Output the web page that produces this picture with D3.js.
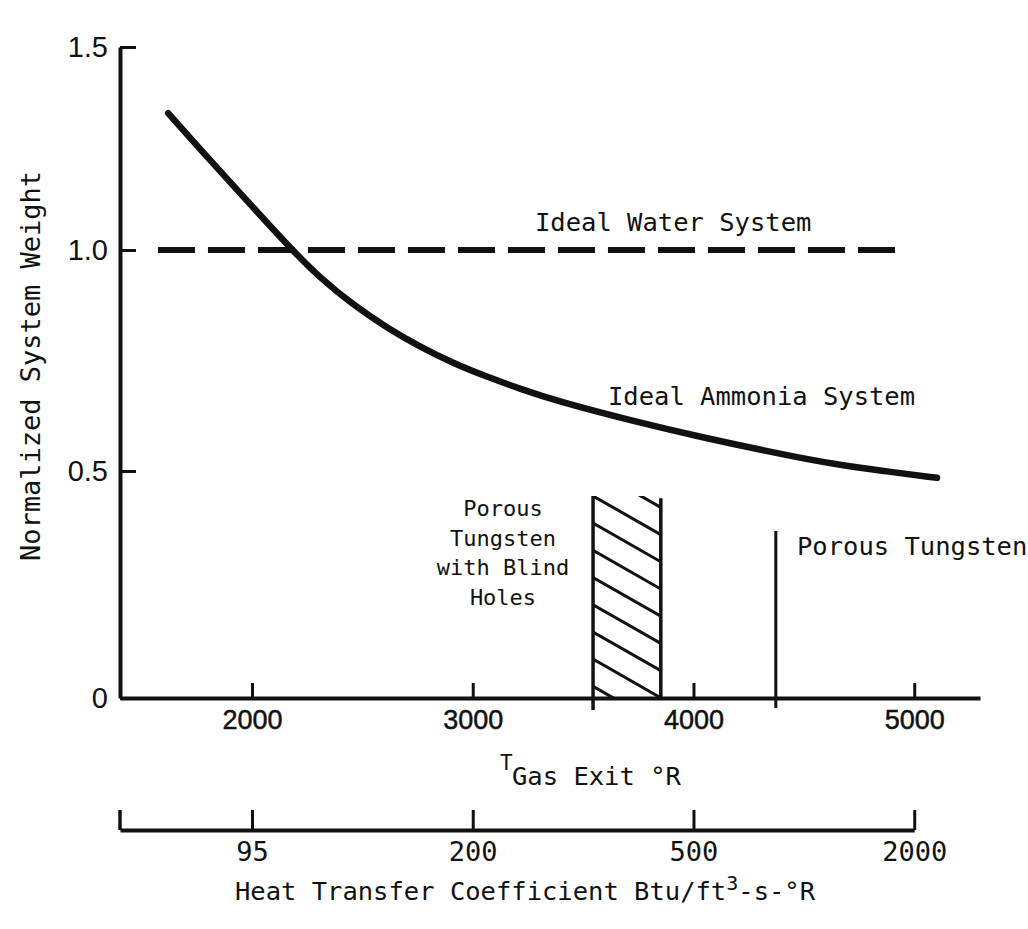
<!DOCTYPE html>
<html>
<head>
<meta charset="utf-8">
<script src="https://cdn.jsdelivr.net/npm/d3@7"></script>
<style>
  html, body { margin: 0; padding: 0; background: #fff; }
  svg { display: block; }
</style>
</head>
<body>
<svg id="chart" width="1028" height="929"></svg>
<script>
// ---------------- data ----------------
const tempTicks = [2000, 3000, 4000, 5000];
const tempTickLabels = ["2000", "3000", "4000", "5000"];
const weightTicks = [0, 0.5, 1.0, 1.5];
const weightTickLabels = ["0", "0.5", "1.0", "1.5"];
const htcTicks = [95, 200, 500, 2000];          // heat transfer coefficient labels
const htcTickTemps = [2000, 3000, 4000, 5000];  // gas exit temperature each corresponds to
const htcTickLabels = ["95", "200", "500", "2000"];

const ammoniaTemp = [1620, 1764, 1946, 2172, 2308, 2458, 2612, 2761, 2911, 3065, 3214, 3382, 3726, 4030, 4437, 4632, 4859, 5103];
const ammoniaWeight = [1.337, 1.249, 1.140, 1.005, 0.937, 0.876, 0.824, 0.781, 0.744, 0.713, 0.686, 0.658, 0.613, 0.577, 0.534, 0.516, 0.500, 0.485];

const waterTemp = [1574, 4936];
const waterWeight = [1.0, 1.0];

const blindHolesTemp = [3545, 3852];
const blindHolesWeight = [0.445, 0.44];

const porousTemp = 4373;
const porousWeight = 0.368;

const tempDomain = [1402, 5298];

// ---------------- scales ----------------
const svg = d3.select("#chart");
const x = d3.scaleLinear().domain(tempDomain).range([120, 980]);
const y = d3.scaleLinear().domain(weightTicks).range([698, 471, 250, 47]);
const hToT = d3.scaleLinear().domain(htcTicks).range(htcTickTemps);
const hx = h => x(hToT(h));

const ink = "#111";
const mono = "'DejaVu Sans Mono', 'Liberation Mono', monospace";
const sans = "'Liberation Sans', Arial, sans-serif";

// ---------------- axes ----------------
const yAxis = d3.axisLeft(y)
  .tickValues(weightTicks)
  .tickSizeInner(-16).tickSizeOuter(0).tickPadding(12)
  .tickFormat((d, i) => weightTickLabels[i]);
const gy = svg.append("g").attr("transform", `translate(${x(tempDomain[0])},0)`).call(yAxis);
gy.select(".domain").attr("stroke", ink).attr("stroke-width", 4);
gy.selectAll(".tick line").attr("stroke", ink).attr("stroke-width", 3);
gy.selectAll(".tick text").attr("fill", ink).style("font-family", sans).style("font-size", "29px");

const xAxis = d3.axisBottom(x)
  .tickValues(tempTicks)
  .tickSizeInner(-15).tickSizeOuter(0).tickPadding(12)
  .tickFormat((d, i) => tempTickLabels[i]);
const gx = svg.append("g").attr("transform", `translate(0,${y(0)})`).call(xAxis);
gx.select(".domain").attr("stroke", ink).attr("stroke-width", 4);
gx.selectAll(".tick line").attr("stroke", ink).attr("stroke-width", 3);
gx.selectAll(".tick text").attr("fill", ink).style("font-family", sans).style("font-size", "27px")
  .style("stroke", ink).style("stroke-width", "0.5px");

// secondary axis (heat transfer coefficient)
const secY = 830;
const h0 = x(tempDomain[0]);
const h1 = hx(htcTicks[htcTicks.length - 1]);
const hAxis = d3.axisBottom(d3.scaleLinear().domain([h0, h1]).range([h0, h1]))
  .tickValues(htcTicks.map(hx))
  .tickSizeInner(-20).tickSizeOuter(0).tickPadding(12)
  .tickFormat((d, i) => htcTickLabels[i]);
const gh = svg.append("g").attr("transform", `translate(0,${secY})`).call(hAxis);
gh.select(".domain").attr("stroke", ink).attr("stroke-width", 4);
gh.selectAll(".tick line").attr("stroke", ink).attr("stroke-width", 3);
gh.selectAll(".tick text").attr("fill", ink).style("font-family", mono).style("font-size", "27px");
gh.append("line").attr("x1", h0).attr("x2", h0).attr("y1", 0).attr("y2", -20)
  .attr("stroke", ink).attr("stroke-width", 3.5);

// ---------------- marks ----------------
// Ideal water system (dashed)
svg.append("path")
  .datum(waterTemp.map((t, i) => [t, waterWeight[i]]))
  .attr("d", d3.line().x(d => x(d[0])).y(d => y(d[1])))
  .attr("fill", "none").attr("stroke", ink).attr("stroke-width", 6)
  .attr("stroke-dasharray", "37 13");

// Ideal ammonia system (solid curve)
svg.append("path")
  .datum(ammoniaTemp.map((t, i) => [t, ammoniaWeight[i]]))
  .attr("d", d3.line().x(d => x(d[0])).y(d => y(d[1])).curve(d3.curveBasis))
  .attr("fill", "none").attr("stroke", ink).attr("stroke-width", 6.5)
  .attr("stroke-linecap", "round");

// Porous tungsten with blind holes (hatched band)
const bx0 = x(blindHolesTemp[0]), bx1 = x(blindHolesTemp[1]);
const byTop = y(blindHolesWeight[0]), byBot = y(0);
svg.append("clipPath").attr("id", "hatchClip")
  .append("rect").attr("x", bx0).attr("y", byTop).attr("width", bx1 - bx0).attr("height", byBot - byTop);
const hatch = svg.append("g").attr("clip-path", "url(#hatchClip)");
const spacing = 27.2, slope = 0.57;
d3.range(-2, 10).forEach(k => {
  const ys = byTop + k * spacing;
  hatch.append("line")
    .attr("x1", bx0).attr("y1", ys)
    .attr("x2", bx1).attr("y2", ys + slope * (bx1 - bx0))
    .attr("stroke", ink).attr("stroke-width", 3);
});
svg.append("line").attr("x1", bx0).attr("x2", bx0).attr("y1", byTop).attr("y2", byBot + 12)
  .attr("stroke", ink).attr("stroke-width", 3.5);
svg.append("line").attr("x1", bx1).attr("x2", bx1).attr("y1", y(blindHolesWeight[1])).attr("y2", byBot)
  .attr("stroke", ink).attr("stroke-width", 3.5);

// Porous tungsten (single line)
svg.append("line").attr("x1", x(porousTemp)).attr("x2", x(porousTemp))
  .attr("y1", y(porousWeight)).attr("y2", y(0) + 10)
  .attr("stroke", ink).attr("stroke-width", 3);

// ---------------- text ----------------
function label(txt, px, py, size, anchor) {
  return svg.append("text").attr("x", px).attr("y", py).attr("fill", ink)
    .attr("text-anchor", anchor || "start")
    .style("font-family", mono).style("font-size", size + "px").text(txt);
}
label("Ideal Water System", 535, 231, 25.5);
label("Ideal Ammonia System", 608, 405, 25.5);
label("Porous Tungsten", 797, 555, 25.5);
["Porous", "Tungsten", "with Blind", "Holes"].forEach((s, i) => {
  label(s, 503, 516 + i * 29.5, 22, "middle");
});

// x axis title
const tx = svg.append("text").attr("fill", ink).style("font-family", mono);
tx.append("tspan").attr("x", 500).attr("y", 770).style("font-size", "21px").text("T");
tx.append("tspan").attr("x", 512).attr("y", 785).style("font-size", "25.5px").text("Gas Exit °R");

// y axis title
svg.append("text").attr("fill", ink)
  .attr("transform", "translate(40,366) rotate(-90)")
  .attr("text-anchor", "middle")
  .style("font-family", mono).style("font-size", "27px")
  .text("Normalized System Weight");

// secondary axis title
const ht = svg.append("text").attr("x", 525).attr("y", 900).attr("fill", ink)
  .attr("text-anchor", "middle").style("font-family", mono).style("font-size", "25.5px");
ht.append("tspan").text("Heat Transfer Coefficient Btu/ft");
ht.append("tspan").attr("dy", -10).style("font-size", "20px").text("3");
ht.append("tspan").attr("dy", 10).text("-s-°R");
</script>
</body>
</html>
